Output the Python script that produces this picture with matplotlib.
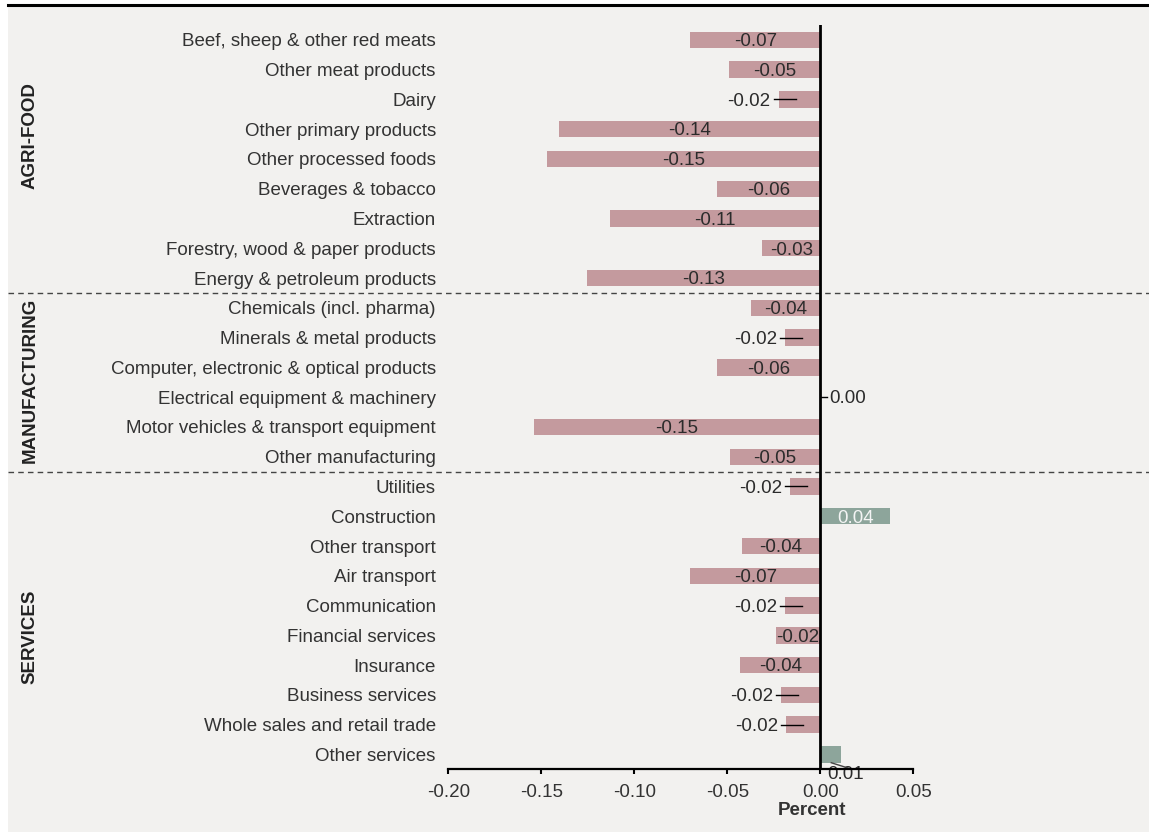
import numpy as np
import matplotlib
matplotlib.use("Agg")
from matplotlib import pyplot as plt
from matplotlib.patches import Rectangle
from matplotlib.lines import Line2D

# --------------------- data ---------------------
sectors = [
    "Beef, sheep & other red meats", "Other meat products", "Dairy",
    "Other primary products", "Other processed foods", "Beverages & tobacco",
    "Extraction", "Forestry, wood & paper products", "Energy & petroleum products",
    "Chemicals (incl. pharma)", "Minerals & metal products",
    "Computer, electronic & optical products", "Electrical equipment & machinery",
    "Motor vehicles & transport equipment", "Other manufacturing",
    "Utilities", "Construction", "Other transport", "Air transport",
    "Communication", "Financial services", "Insurance", "Business services",
    "Whole sales and retail trade", "Other services",
]
change_pct = [
    -0.0699, -0.0492, -0.0224, -0.1407, -0.1468, -0.0554, -0.1132, -0.0313, -0.1252,
    -0.0375, -0.0190, -0.0555, 0.0, -0.1541, -0.0486,
    -0.0161, 0.0375, -0.0423, -0.0699, -0.0190, -0.0238, -0.0430, -0.0210, -0.0183, 0.0113,
]
groups = ["AGRI-FOOD", "MANUFACTURING", "SERVICES"]
group_sizes = [9, 6, 10]
x_ticks = [-0.20, -0.15, -0.10, -0.05, 0.00, 0.05]

# --------------------- style ---------------------
plt.rcParams["font.family"] = ["Liberation Sans", "DejaVu Sans"]
RED = "#c49a9e"
GREEN = "#8da59b"
BG = "#f2f1ef"
TXT = "#2b2b2b"
FS = 13.5

W, H = 1149, 832
fig = plt.figure(figsize=(W / 100, H / 100), dpi=100)
fig.patch.set_facecolor("white")
# grey panel + rule under the (cropped) heading
fig.patches.append(Rectangle((8 / W, 0), 1, 1 - 7 / H, transform=fig.transFigure,
                             facecolor=BG, edgecolor="none", zorder=-10))
fig.lines.append(Line2D([8 / W, 1], [1 - 5 / H, 1 - 5 / H], transform=fig.transFigure,
                        color="black", lw=2.2, zorder=-5))

ax = fig.add_axes([448.3 / W, 1 - 769.3 / H, 465 / W, 744.3 / H])
ax.set_facecolor("none")

vals = np.array(change_pct)
n = len(sectors)
y = np.arange(n)
colors = [GREEN if v > 0 else RED for v in vals]
ax.barh(y, vals, height=0.55, color=colors, zorder=1)

ax.set_xlim(-0.20, 0.05)
ax.set_ylim(n - 0.5, -0.5)
ax.set_yticks(y)
ax.set_yticklabels(sectors, fontsize=FS, color="#333333")
ax.tick_params(axis="y", length=0, pad=9)
ax.set_xticks(x_ticks)
ax.set_xticklabels([f"{t:.2f}" for t in x_ticks], fontsize=FS, color="#333333")
ax.tick_params(axis="x", direction="out", length=3.5, width=1.5, pad=7)
for s in ["top", "right", "left"]:
    ax.spines[s].set_visible(False)
ax.spines["bottom"].set_linewidth(1.6)
ax.spines["bottom"].set_zorder(5)
ax.axvline(0, color="black", lw=2, zorder=4)

# --------------------- value labels ---------------------
px = 0.25 / 465  # one pixel in data units
dy = 0.06        # nudge text down onto the bar centre
for i, v in enumerate(vals):
    lab = f"{v:.2f}"
    if abs(v) < 0.005:
        ax.plot([0.5 * px, 7 * px], [i, i], color="black", lw=1, zorder=3)
        ax.text(9 * px, i + dy, lab, ha="left", va="center", fontsize=FS, color=TXT)
    elif abs(v) >= 0.023:
        tc = "#f4f4f4" if v > 0 else TXT
        ax.text(v / 2, i + dy, lab, ha="center", va="center", fontsize=FS, color=tc, zorder=3)
    elif v < 0:
        ax.plot([v - 5 * px, v + 17 * px], [i, i], color="black", lw=1, zorder=3)
        ax.text(v - 8 * px, i + dy, lab, ha="right", va="center", fontsize=FS, color=TXT)
    else:
        ax.plot([11 * px, 28 * px], [i + 0.28, i + 0.46], color="#444444", lw=1, zorder=3)
        ax.text(25 * px, i + 0.68, lab, ha="center", va="center", fontsize=FS,
                color=TXT, zorder=0.5, clip_on=False)

# --------------------- group separators and names ---------------------
edges = np.cumsum(group_sizes)[:-1] - 0.5
for e in edges:
    ax.axhline(e, xmin=-440 / 465, xmax=701 / 465, color="#444444", lw=1,
               ls=(0, (4, 3)), clip_on=False, zorder=2)

group_y = [136, 380, 637]
for g, gy in zip(groups, group_y):
    fig.text(30 / W, 1 - gy / H, g, rotation=90, ha="center", va="center",
             fontsize=FS, fontweight="bold", color="#222222")

fig.text(811.7 / W, 1 - 810.7 / H, "Percent", ha="center", va="center",
         fontsize=FS, fontweight="bold", color="#333333")

fig.savefig("out.png", dpi=100, facecolor=fig.get_facecolor())
